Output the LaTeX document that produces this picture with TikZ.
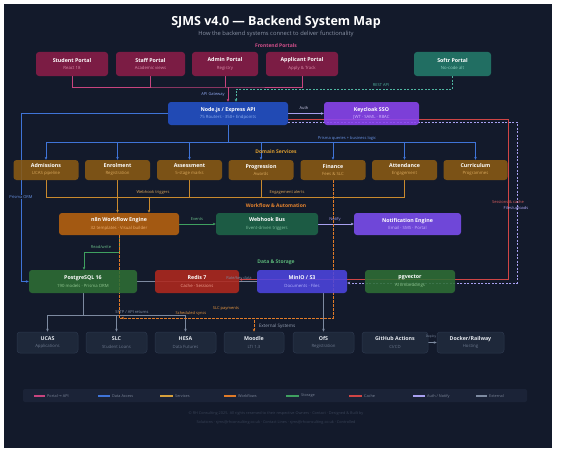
\documentclass[tikz,border=0pt]{standalone}
\usepackage{fontspec}
\setmainfont{Open Sans}
\newfontfamily\djv{DejaVu Sans}
\usetikzlibrary{arrows.meta}
\pgfdeclarelayer{bg}
\pgfsetlayers{bg,main}
\definecolor{bgc}{HTML}{131A2B}
\definecolor{portalc}{HTML}{8A1D48}
\definecolor{portalsub}{HTML}{D98AA8}
\definecolor{softrc}{HTML}{237A6A}
\definecolor{softrsub}{HTML}{8FD0C0}
\definecolor{apic}{HTML}{2451C8}
\definecolor{apisub}{HTML}{8FB0F0}
\definecolor{kcc}{HTML}{8B45F0}
\definecolor{kcsub}{HTML}{D6B8FF}
\definecolor{domc}{HTML}{8A5A14}
\definecolor{domsub}{HTML}{D9A85C}
\definecolor{n8nc}{HTML}{B8620F}
\definecolor{n8nsub}{HTML}{F0B070}
\definecolor{whc}{HTML}{1E6448}
\definecolor{whsub}{HTML}{80C0A0}
\definecolor{ntc}{HTML}{7C4EF0}
\definecolor{ntsub}{HTML}{C8B0FF}
\definecolor{pgc}{HTML}{2E6E35}
\definecolor{pgsub}{HTML}{92C892}
\definecolor{rdc}{HTML}{B0281E}
\definecolor{rdsub}{HTML}{F0A090}
\definecolor{mnc}{HTML}{4C45E0}
\definecolor{mnsub}{HTML}{B4B4FF}
\definecolor{extc}{HTML}{1E283A}
\definecolor{extd}{HTML}{2C384D}
\definecolor{extsub}{HTML}{6B778C}
\definecolor{exttxt}{HTML}{E4E8EE}
\definecolor{lpink}{HTML}{C8447E}
\definecolor{lteal}{HTML}{4FB5A0}
\definecolor{lblue}{HTML}{3F74D8}
\definecolor{lamber}{HTML}{C98A2E}
\definecolor{lorange}{HTML}{E07B28}
\definecolor{lgreen}{HTML}{3FA060}
\definecolor{lred}{HTML}{D04545}
\definecolor{llav}{HTML}{A8A0F0}
\definecolor{lgray}{HTML}{7D8AA0}
\definecolor{legbg}{HTML}{1B2337}
\definecolor{legamber}{HTML}{D6A03C}
\definecolor{foot}{HTML}{394357}
\definecolor{subtitle}{HTML}{8A93A6}
\definecolor{leglab}{HTML}{7D879A}
\definecolor{tpink}{HTML}{D6508C}
\definecolor{tgate}{HTML}{8FA8F0}
\definecolor{tauth}{HTML}{C8C8E6}
\definecolor{tblue}{HTML}{6A95E8}
\definecolor{tamberS}{HTML}{E0A030}
\definecolor{tamber}{HTML}{E0A858}
\definecolor{tred}{HTML}{E06060}
\definecolor{tlav}{HTML}{B8B0FF}
\definecolor{torangeS}{HTML}{E8852E}
\definecolor{tgreen}{HTML}{6CC08A}
\definecolor{tgreenS}{HTML}{5CB87A}
\definecolor{torange}{HTML}{F09A40}
\definecolor{tgray}{HTML}{8C98AC}
\definecolor{tgrayS}{HTML}{9AA5B8}
\colorlet{subc}{white}
\newcommand{\myfs}[2]{\fontsize{#1}{#2}\selectfont}
\newcommand{\subt}[1]{{\myfs{4.3}{5}\mdseries\color{subc}#1}}
\tikzset{
  box/.style={rounded corners=3pt, align=center, text=white, font=\myfs{5.3}{6.5}\bfseries, inner sep=0pt, fill opacity=0.88, text opacity=1},
  portal/.style={box, fill=portalc, minimum height=24pt, execute at begin node=\colorlet{subc}{portalsub}},
  softrbox/.style={box, fill=softrc, minimum height=24pt, execute at begin node=\colorlet{subc}{softrsub}},
  apibox/.style={box, fill=apic, minimum height=23pt, execute at begin node=\colorlet{subc}{apisub}},
  kcbox/.style={box, fill=kcc, minimum height=23pt, execute at begin node=\colorlet{subc}{kcsub}},
  dombox/.style={box, fill=domc, minimum height=20pt, minimum width=65pt, execute at begin node=\colorlet{subc}{domsub}},
  n8nbox/.style={box, fill=n8nc, minimum height=22pt, execute at begin node=\colorlet{subc}{n8nsub}},
  whbox/.style={box, fill=whc, minimum height=22pt, execute at begin node=\colorlet{subc}{whsub}},
  ntbox/.style={box, fill=ntc, minimum height=22pt, execute at begin node=\colorlet{subc}{ntsub}},
  pgbox/.style={box, fill=pgc, minimum height=23pt, execute at begin node=\colorlet{subc}{pgsub}},
  rdbox/.style={box, fill=rdc, minimum height=23pt, execute at begin node=\colorlet{subc}{rdsub}},
  mnbox/.style={box, fill=mnc, minimum height=23pt, execute at begin node=\colorlet{subc}{mnsub}},
  extbox/.style={box, fill=extc, draw=extd, line width=0.5pt, text=exttxt, minimum height=21pt, minimum width=61pt, fill opacity=1, execute at begin node=\colorlet{subc}{extsub}},
  pl/.style={draw=lpink, line width=1pt},
  tl/.style={draw=lteal, line width=0.8pt, dash pattern=on 2pt off 1.5pt},
  bl/.style={draw=lblue, line width=0.8pt},
  al/.style={draw=lamber, line width=0.8pt},
  od/.style={draw=lorange, line width=0.8pt, dash pattern=on 2.5pt off 1.5pt},
  gl/.style={draw=lgreen, line width=0.8pt},
  rl/.style={draw=lred, line width=0.8pt},
  ld/.style={draw=llav, line width=0.8pt, dash pattern=on 2pt off 1.5pt},
  ll/.style={draw=llav, line width=0.8pt},
  xl/.style={draw=lgray, line width=0.7pt},
  arr/.style={-{Stealth[length=3pt,width=2.6pt]}},
  elab/.style={font=\myfs{4}{4.5}, inner sep=0.5pt},
  sect/.style={font=\myfs{5}{6}\bfseries, inner sep=0pt},
  leg/.style={font=\myfs{3.8}{4.5}, text=leglab, anchor=west, inner sep=0pt},
  legline/.style={line width=1.6pt},
}
\begin{document}
\begin{tikzpicture}[x=1pt,y=-1pt]
\useasboundingbox (0,0) rectangle (562,452);
\begin{pgfonlayer}{bg}
\fill[white] (0,0) rectangle (562,452);
\fill[bgc] (4,4) rectangle (552,448);
\end{pgfonlayer}

% titles
\node[font=\myfs{12.5}{14}\bfseries, text=white] (title) at (276,22) {SJMS v4.0 — Backend System Map};
\node[font=\myfs{5.8}{7}, text=subtitle] (subtitle) at (276,34) {How the backend systems connect to deliver functionality};
\node[sect, text=tpink] (lfront) at (276,46) {Frontend Portals};

% portals
\node[portal, minimum width=72pt] (student) at (72,64) {Student Portal\\[1pt]\subt{React 18}};
\node[portal, minimum width=69pt] (staff) at (150.5,64) {Staff Portal\\[1pt]\subt{Academic views}};
\node[portal, minimum width=66pt] (admin) at (225,64) {Admin Portal\\[1pt]\subt{Registry}};
\node[portal, minimum width=72pt] (applicant) at (302,64) {Applicant Portal\\[1pt]\subt{Apply \& Track}};
\node[softrbox, minimum width=77pt] (softr) at (452.5,64) {Softr Portal\\[1pt]\subt{No-code alt}};

% API
\node[apibox, minimum width=120pt] (api) at (228,113.5) {Node.js / Express API\\[1pt]\subt{75 Routers · 350+ Endpoints}};
\node[kcbox, minimum width=95pt] (keycloak) at (371.5,113.5) {Keycloak SSO\\[1pt]\subt{JWT · SAML · RBAC}};

% domain
\node[dombox] (adm) at (46,170) {Admissions\\[0.5pt]\subt{UCAS pipeline}};
\node[dombox] (enr) at (117.5,170) {Enrolment\\[0.5pt]\subt{Registration}};
\node[dombox] (ass) at (189.5,170) {Assessment\\[0.5pt]\subt{5-stage marks}};
\node[dombox] (prog) at (261,170) {Progression\\[0.5pt]\subt{Awards}};
\node[dombox] (fin) at (333,170) {Finance\\[0.5pt]\subt{Fees \& SLC}};
\node[dombox] (att) at (404.5,170) {Attendance\\[0.5pt]\subt{Engagement}};
\node[dombox, minimum width=64pt] (cur) at (475.5,170) {Curriculum\\[0.5pt]\subt{Programmes}};

% workflow
\node[n8nbox, minimum width=120pt] (n8n) at (119,224) {n8n Workflow Engine\\[1pt]\subt{32 templates · Visual builder}};
\node[whbox, minimum width=102pt] (webhook) at (267,224) {Webhook Bus\\[1pt]\subt{Event-driven triggers}};
\node[ntbox, minimum width=107pt] (notify) at (407.5,224) {Notification Engine\\[1pt]\subt{Email · SMS · Portal}};

% storage
\node[pgbox, minimum width=108pt] (pg) at (83,281.5) {PostgreSQL 16\\[1pt]\subt{190 models · Prisma ORM}};
\node[rdbox, minimum width=84pt] (redis) at (197,281.5) {Redis 7\\[1pt]\subt{Cache · Sessions}};
\node[mnbox, minimum width=90pt] (minio) at (302,281.5) {MinIO / S3\\[1pt]\subt{Documents · Files}};
\node[pgbox, minimum width=90pt] (pgv) at (410,281.5) {pgvector\\[1pt]\subt{AI Embeddings}};

% external
\node[extbox] (ucas) at (47.5,342.5) {UCAS\\[1pt]\subt{Applications}};
\node[extbox] (slc) at (116.5,342.5) {SLC\\[1pt]\subt{Student Loans}};
\node[extbox] (hesa) at (185.5,342.5) {HESA\\[1pt]\subt{Data Futures}};
\node[extbox, minimum width=60pt] (moodle) at (254,342.5) {Moodle\\[1pt]\subt{LTI 1.3}};
\node[extbox] (ofs) at (323.5,342.5) {OfS\\[1pt]\subt{Registration}};
\node[extbox, minimum width=66pt] (github) at (395,342.5) {GitHub Actions\\[1pt]\subt{CI/CD}};
\node[extbox, minimum width=67pt] (docker) at (470.5,342.5) {Docker/Railway\\[1pt]\subt{Hosting}};

% coordinates
\coordinate (pbus) at (228,87);
\coordinate (tbus) at (236,89);
\coordinate (r1) at (508,119);
\coordinate (r2) at (508,279.5);
\coordinate (d1) at (517,122);
\coordinate (d2) at (517,283);
\coordinate (bb) at (228,142);
\coordinate (bl1) at (21,113.5);
\coordinate (ob) at (149,197);
\coordinate (g1) at (84,252);
\coordinate (xb) at (83,315);
\coordinate (sy) at (119,318);
\coordinate (fy) at (333,318);

\begin{pgfonlayer}{bg}
% portals -> api
\draw[pl] (student.south) |- (pbus) -| (applicant.south);
\draw[pl] (staff.south) -- (staff.south |- pbus);
\draw[pl] (admin.south) -- (admin.south |- pbus);
\draw[pl, arr] (pbus) -- (api.north);
\draw[tl, arr] (softr.south) |- (tbus) -- (tbus |- api.north);
% auth
\draw[ll, arr] (api.east) -- (keycloak.west);
% sessions & cache
\draw[rl, arr] (api.east |- r1) -- (r1) -- (r2) -- (r2 -| redis.east);
% files/uploads
\draw[ld, arr] (api.east |- d1) -- (d1) -- (d2) -- (d2 -| minio.east);
% data link across storage row
\draw[xl] (pg.east) -- (minio.west);
% domain bus
\draw[bl] (api.south) -- (bb);
\draw[bl] (adm.north |- bb) -- (cur.north |- bb);
\foreach \d in {adm,enr,ass,prog,fin,att,cur} \draw[bl, arr] (\d.north |- bb) -- (\d.north);
% prisma orm
\draw[bl, arr] (api.west) -- (bl1) |- (pg.west);
% webhook triggers
\draw[al] (adm.south) -- (adm.south |- ob) -- (att.south |- ob) -- (att.south);
\draw[al] (ass.south) -- (ass.south |- ob);
\draw[al] (prog.south) -- (prog.south |- ob);
\draw[al, arr] (ob) -- (ob |- n8n.north);
\draw[al, arr] (enr.south) -- (enr.south |- n8n.north);
% workflow
\draw[gl, arr] (n8n.east) -- (webhook.west);
\draw[ll, arr] (webhook.east) -- (notify.west);
\draw[gl, arr] (n8n.south) |- (g1) -- (g1 |- pg.north);
% external
\draw[xl] (pg.south) -- (xb);
\draw[xl] (ucas.north |- xb) -- (hesa.north |- xb);
\draw[xl, arr] (ucas.north |- xb) -- (ucas.north);
\draw[xl, arr] (slc.north |- xb) -- (slc.north);
\draw[xl, arr] (hesa.north |- xb) -- (hesa.north);
\draw[od, arr] (n8n.south) -- (sy) -| (moodle.north);
\draw[od, arr] (fin.south) -- (fy) -- ([xshift=2pt]sy);
\draw[xl, arr] (minio.south -| ofs.north) -- (ofs.north);
\draw[xl, arr] (github.east) -- (docker.west);
\end{pgfonlayer}

% labels
\node[elab, text=lteal] (lrest) at (381,85) {REST API};
\node[elab, text=tgate] (lgate) at (213,95) {API Gateway};
\node[elab, text=tauth] (lauth) at (304,108) {Auth};
\node[elab, text=tblue] (lprisma) at (347,138) {Prisma queries + business logic};
\node[sect, text=tamberS] (ldom) at (276,152) {Domain Services};
\node[elab, text=tblue, fill=bgc] (lorm) at (21,197) {Prisma ORM};
\node[elab, text=tamber] (lwt) at (153,192) {Webhook triggers};
\node[elab, text=tamber] (lea) at (287,192) {Engagement alerts};
\node[elab, text=tred] (lsess) at (508,202) {Sessions \& cache};
\node[elab, text=tlav] (lfiles) at (516,208) {Files/uploads};
\node[sect, text=torangeS] (lwf) at (276,206) {Workflow \& Automation};
\node[elab, text=tgreen] (lev) at (197,219) {Events};
\node[elab, text=llav] (lnot) at (335,219) {Notify};
\node[elab, text=tgreen] (lrw) at (101,247) {Read/write};
\node[sect, text=tgreenS] (lds) at (276,262) {Data \& Storage};
\node[elab, text=lgray] (ldl) at (239,278) {Rate/key data};
\node[elab, text=torange] (lslc) at (226,309) {SLC payments};
\node[elab, text=tgray] (lsftp) at (132,312) {SFTP / API returns};
\node[elab, text=torange] (lsched) at (191,313) {Scheduled syncs};
\node[font=\myfs{4.6}{5.5}, text=tgrayS] (lext) at (277,326) {External Systems};
\node[font=\myfs{3.2}{4}, text=lgray] (ldep) at (431,337) {Deploy};

% legend
\node[fill=legbg, rounded corners=2pt, minimum width=504pt, minimum height=13pt] (legend) at (275,395.5) {};
\draw[legline, lpink] (34,396) -- (45,396);
\node[leg] (lg1) at (47,396) {Portal {\djv →} API};
\draw[legline, lblue] (98,396) -- (110,396);
\node[leg] (lg2) at (112,396) {Data Access};
\draw[legline, legamber] (160,396) -- (173,396);
\node[leg] (lg3) at (175,396) {Services};
\draw[legline, lorange] (224,396) -- (236,396);
\node[leg] (lg4) at (238,396) {Workflows};
\draw[legline, lgreen] (286,396) -- (299,396);
\node[leg] (lg5) at (301,396) {Storage};
\draw[legline, lred] (349,396) -- (362,396);
\node[leg] (lg6) at (364,396) {Cache};
\draw[legline, llav] (413,396) -- (425,396);
\node[leg] (lg7) at (427,396) {Auth / Notify};
\draw[legline, lgray] (476,396) -- (487,396);
\node[leg] (lg8) at (489,396) {External};

% footer
\node[font=\myfs{3.8}{4.5}, text=foot] (foot1) at (276,414) {© RH Consulting 2025. All rights reserved to their respective Owners · Contact · Designed \& Built by};
\node[font=\myfs{3.8}{4.5}, text=foot] (foot2) at (276,423) {Solutions · sjms@rhconsulting.co.uk · Contact Lines · sjms@rhconsulting.co.uk · Controlled};
\end{tikzpicture}
\end{document}
